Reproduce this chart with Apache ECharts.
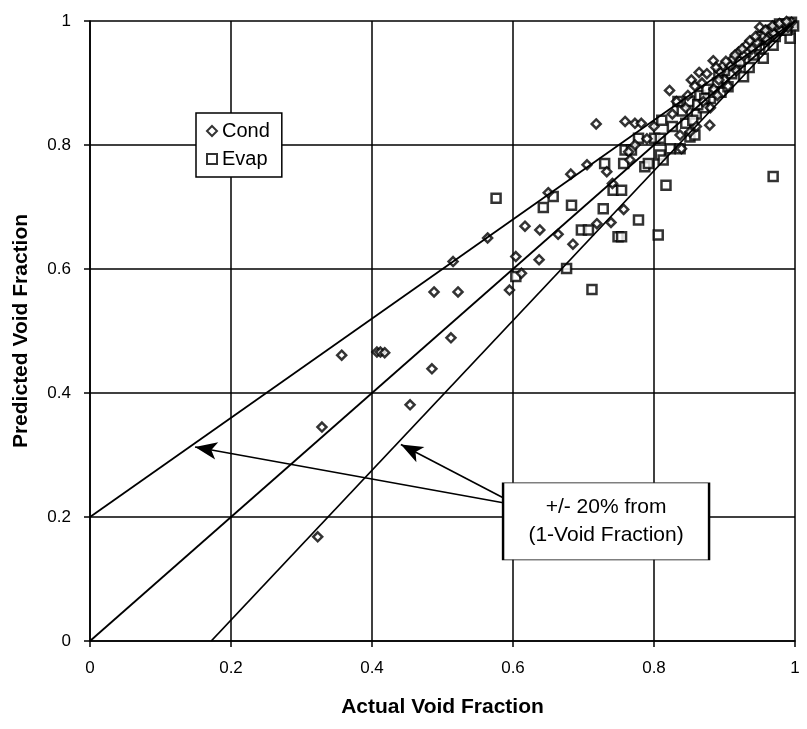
<!DOCTYPE html>
<html>
<head>
<meta charset="utf-8">
<script src="https://cdn.jsdelivr.net/npm/echarts@6/dist/echarts.min.js"></script>
<style>
html,body{margin:0;padding:0;background:#fff;}
#chart{width:807px;height:729px;}
</style>
</head>
<body>
<div id="chart"></div>
<script>
// ---- data ----
const tickValues = [0, 0.2, 0.4, 0.6, 0.8, 1];
const xTitle = 'Actual Void Fraction';
const yTitle = 'Predicted Void Fraction';

const cond = [
 [0.323,0.168],[0.329,0.345],[0.357,0.461],[0.407,0.466],[0.412,0.466],[0.418,0.465],
 [0.454,0.381],[0.485,0.439],[0.488,0.563],[0.512,0.489],[0.515,0.612],[0.522,0.563],
 [0.564,0.650],[0.595,0.566],[0.604,0.620],[0.612,0.593],[0.617,0.669],[0.637,0.615],
 [0.638,0.663],[0.650,0.723],[0.664,0.656],[0.682,0.753],[0.685,0.640],[0.705,0.768],
 [0.719,0.673],[0.718,0.834],[0.733,0.757],[0.739,0.675],[0.741,0.738],[0.757,0.696],
 [0.759,0.838],[0.764,0.789],[0.766,0.776],[0.773,0.835],[0.782,0.835],[0.773,0.800],
 [0.790,0.810],[0.800,0.830],[0.822,0.888],[0.837,0.816],[0.839,0.794],[0.845,0.860],
 [0.853,0.905],[0.851,0.821],[0.860,0.830],[0.864,0.917],[0.870,0.870],[0.879,0.832],
 [0.880,0.860],[0.884,0.936],[0.885,0.890],[0.890,0.880],[0.894,0.918],[0.898,0.928],
 [0.900,0.905],[0.905,0.895],[0.908,0.928],[0.912,0.939],[0.917,0.920],[0.920,0.950],
 [0.927,0.944],[0.931,0.961],[0.939,0.955],[0.946,0.966],[0.950,0.990],[0.955,0.975],
 [0.960,0.970],[0.965,0.985],[0.970,0.980],[0.975,0.990],[0.980,0.985],[0.985,0.995],
 [0.990,0.990],[0.995,0.998],
 [0.826,0.850],[0.832,0.870],[0.848,0.880],[0.858,0.895],[0.868,0.900],[0.875,0.915],
 [0.888,0.925],[0.892,0.905],[0.902,0.935],[0.915,0.945],[0.925,0.955],[0.936,0.968],
 [0.944,0.975],[0.958,0.985],[0.968,0.992],[0.978,0.996],[0.988,0.999]
];

const evap = [
 [0.576,0.714],[0.604,0.588],[0.643,0.699],[0.657,0.717],[0.676,0.601],[0.683,0.703],
 [0.697,0.663],[0.707,0.663],[0.712,0.567],[0.728,0.697],[0.730,0.770],[0.742,0.727],
 [0.749,0.652],[0.754,0.652],[0.754,0.727],[0.757,0.770],[0.759,0.792],[0.768,0.792],
 [0.778,0.679],[0.778,0.811],[0.787,0.765],[0.792,0.770],[0.801,0.811],[0.806,0.655],
 [0.809,0.784],[0.809,0.811],[0.811,0.840],[0.813,0.776],[0.817,0.735],[0.823,0.794],
 [0.834,0.870],[0.837,0.794],[0.845,0.835],[0.851,0.813],[0.858,0.816],[0.860,0.850],
 [0.865,0.880],[0.870,0.860],[0.875,0.890],[0.880,0.875],[0.890,0.900],[0.895,0.885],
 [0.905,0.894],[0.910,0.915],[0.917,0.940],[0.927,0.910],[0.935,0.925],[0.941,0.945],
 [0.950,0.955],[0.955,0.940],[0.960,0.970],[0.969,0.749],[0.969,0.961],[0.965,0.985],
 [0.972,0.975],[0.975,0.990],[0.980,0.985],[0.985,0.995],[0.990,0.990],[0.993,0.972],
 [0.995,0.998],[0.998,0.992],
 [0.826,0.830],[0.840,0.855],[0.850,0.870],[0.855,0.840],[0.862,0.865],[0.872,0.875],
 [0.885,0.885],[0.892,0.915],[0.900,0.920],[0.915,0.930],[0.922,0.935],[0.930,0.950],
 [0.945,0.960],[0.952,0.975],[0.962,0.980],[0.978,0.995],[0.988,0.985]
];

// reference lines (+/- 20% from 1-void fraction)
const upperBound = [[0, 0.2], [1, 1]];
const centerLine = [[0, 0], [1, 1]];
const lowerBound = [[0.172, 0], [1, 1]];

// annotation (data coordinates)
const arrowTails = [[0.586, 0.223], [0.586, 0.231]];
const arrowTips  = [[0.149, 0.313], [0.441, 0.317]];
const noteCenter = [0.732, 0.193];
const noteText = '+/- 20% from\n(1-Void Fraction)';

// ---- chart ----
const chart = echarts.init(document.getElementById('chart'), null, {renderer: 'canvas'});
const FONT = 'Liberation Sans, Arial, Helvetica, sans-serif';
const ink = '#000';

const axisCommon = {
  type: 'value',
  min: tickValues[0],
  max: tickValues[tickValues.length - 1],
  interval: tickValues[1] - tickValues[0],
  axisLine: {show: true, onZero: false, lineStyle: {color: ink, width: 1.6}},
  axisTick: {show: true, length: 6, lineStyle: {color: ink, width: 1.5}},
  splitLine: {show: true, lineStyle: {color: ink, width: 1.5}},
  axisLabel: {color: ink, fontSize: 17, fontFamily: FONT, margin: 19,
              formatter: v => String(+v.toFixed(1))},
  nameLocation: 'middle',
  nameTextStyle: {color: ink, fontSize: 21, fontWeight: 'bold', fontFamily: FONT}
};

const refLineStyle = {color: ink, width: 1.8};

const option = {
  backgroundColor: '#fff',
  animation: false,
  grid: {left: 90, right: 12, top: 21, bottom: 88, show: false},
  xAxis: Object.assign({}, axisCommon, {name: xTitle, nameGap: 56}),
  yAxis: Object.assign({}, axisCommon, {name: yTitle, nameGap: 58}),
  legend: {
    orient: 'vertical',
    left: 196, top: 113,
    padding: [6, 12, 6, 10],
    itemGap: 4,
    itemWidth: 10, itemHeight: 10,
    backgroundColor: '#fff',
    borderColor: ink, borderWidth: 1.5, borderRadius: 0,
    textStyle: {color: ink, fontSize: 20, fontFamily: FONT, lineHeight: 24},
    data: [{name: 'Cond', icon: 'diamond'}, {name: 'Evap', icon: 'rect'}],
    selectedMode: false
  },
  series: [
    {
      name: 'Evap', type: 'scatter', data: evap,
      symbol: 'rect', symbolSize: 9,
      itemStyle: {color: '#fff', borderColor: ink, borderWidth: 2.5},
      z: 3
    },
    {
      name: 'Cond', type: 'scatter', data: cond,
      symbol: 'diamond', symbolSize: 9,
      itemStyle: {color: '#fff', borderColor: ink, borderWidth: 2.5},
      z: 3
    },
    {name: 'upper', type: 'line', data: upperBound, symbol: 'none', lineStyle: refLineStyle, z: 4, silent: true},
    {name: 'lower', type: 'line', data: lowerBound, symbol: 'none', lineStyle: refLineStyle, z: 4, silent: true},
    {
      name: 'center', type: 'line', data: centerLine, symbol: 'none', lineStyle: refLineStyle, z: 4, silent: true,
      markLine: {
        silent: true,
        symbol: ['none', 'arrow'],
        symbolSize: [13, 22],
        label: {show: false},
        lineStyle: {color: ink, width: 1.6, type: 'solid'},
        emphasis: {disabled: true},
        data: arrowTails.map((t, i) => [{coord: t}, {coord: arrowTips[i]}])
      },
      markPoint: {
        silent: true,
        symbol: 'rect',
        symbolSize: [206, 77],
        itemStyle: {color: '#fff', borderColor: ink, borderWidth: 1.5},
        label: {show: true, position: 'inside', formatter: noteText, color: ink,
                fontSize: 21, lineHeight: 28, fontFamily: FONT, align: 'center'},
        data: [{coord: noteCenter}]
      }
    }
  ]
};
chart.setOption(option);
</script>
</body>
</html>
